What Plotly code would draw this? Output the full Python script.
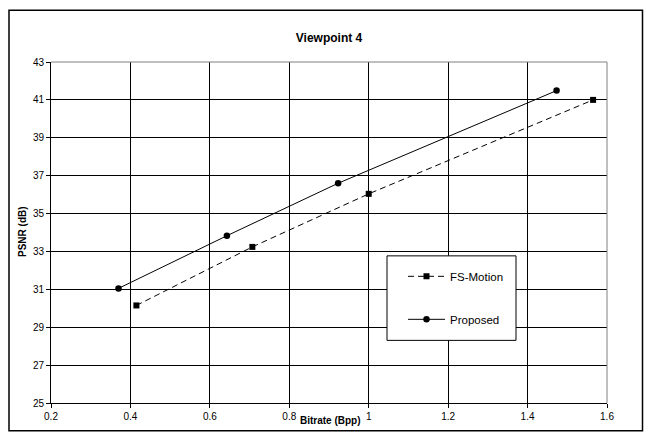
import plotly.graph_objects as go

# Data
fs_x = [0.415, 0.707, 1.0, 1.565]
fs_y = [30.15, 33.24, 36.04, 41.0]
pr_x = [0.37, 0.643, 0.923, 1.473]
pr_y = [31.05, 33.83, 36.6, 41.49]

x_ticks = [0.2, 0.4, 0.6, 0.8, 1.0, 1.2, 1.4, 1.6]
y_ticks = [25, 27, 29, 31, 33, 35, 37, 39, 41, 43]

FONT = "Liberation Sans, Arial, sans-serif"

W, H = 645, 434
L, R, T, B = 51, 38, 62, 29
pw, ph = W - L - R, H - T - B


def px(x):
    return (x - L) / pw


def py(y):
    return (H - B - y) / ph


fig = go.Figure()
fig.add_trace(go.Scatter(
    x=fs_x, y=fs_y, name="FS-Motion", mode="lines+markers",
    line=dict(color="black", width=1, dash="6px,4px"),
    marker=dict(symbol="square", size=6, color="black"),
    legendgroup="a",
))
fig.add_trace(go.Scatter(
    x=pr_x, y=pr_y, name="Proposed", mode="lines+markers",
    line=dict(color="black", width=1),
    marker=dict(symbol="circle", size=6.5, color="black"),
    legendgroup="b",
))

fig.update_layout(
    width=W, height=H,
    margin=dict(l=L, r=R, t=T, b=B),
    paper_bgcolor="white", plot_bgcolor="white",
    font=dict(family=FONT, size=10, color="black"),
    title=dict(text="<b>Viewpoint 4</b>", x=0.5, xref="paper",
               y=1 - 38 / H, yref="container", yanchor="middle",
               font=dict(size=12, family=FONT, color="black")),
    showlegend=True,
    legend=dict(x=px(403), y=py(263), xanchor="left", yanchor="top",
                bgcolor="rgba(0,0,0,0)", borderwidth=0,
                itemwidth=37, tracegroupgap=24,
                font=dict(size=11.5, family=FONT, color="black")),
    xaxis=dict(range=[0.2, 1.6], tickvals=x_ticks,
               ticktext=[("%g" % v) for v in x_ticks],
               showgrid=True, gridcolor="black", gridwidth=1,
               showline=True, linecolor="black", linewidth=1,
               ticks="outside", ticklen=4, tickcolor="black",
               zeroline=False, tickfont=dict(size=10)),
    yaxis=dict(range=[25, 43], tickvals=y_ticks,
               showgrid=True, gridcolor="black", gridwidth=1,
               showline=True, linecolor="black", linewidth=1,
               ticks="outside", ticklen=4, tickcolor="black",
               zeroline=False, tickfont=dict(size=10)),
    shapes=[
        # outer chart frame
        dict(type="rect", xref="paper", yref="paper",
             x0=px(9), x1=px(642.5), y0=py(433), y1=py(10),
             line=dict(color="black", width=1.5), layer="below"),
        # gray top/right plot border
        dict(type="line", xref="paper", yref="paper", x0=0, x1=1, y0=1, y1=1,
             line=dict(color="#808080", width=1), layer="above"),
        dict(type="line", xref="paper", yref="paper", x0=1, x1=1, y0=0, y1=1,
             line=dict(color="#808080", width=1), layer="above"),
        # legend box
        dict(type="rect", xref="paper", yref="paper",
             x0=px(387), x1=px(516), y0=py(342), y1=py(257),
             line=dict(color="black", width=1), fillcolor="white", layer="above"),
    ],
    annotations=[
        dict(text="<b>Bitrate (Bpp)</b>", xref="paper", yref="paper",
             x=px(330), y=py(423), xanchor="center", yanchor="middle",
             showarrow=False, font=dict(size=10, family=FONT, color="black")),
        dict(text="<b>PSNR (dB)</b>", xref="paper", yref="paper",
             x=px(22), y=py(233), xanchor="center", yanchor="middle",
             textangle=-90, showarrow=False,
             font=dict(size=10, family=FONT, color="black")),
    ],
)

fig.write_html("out.html")
